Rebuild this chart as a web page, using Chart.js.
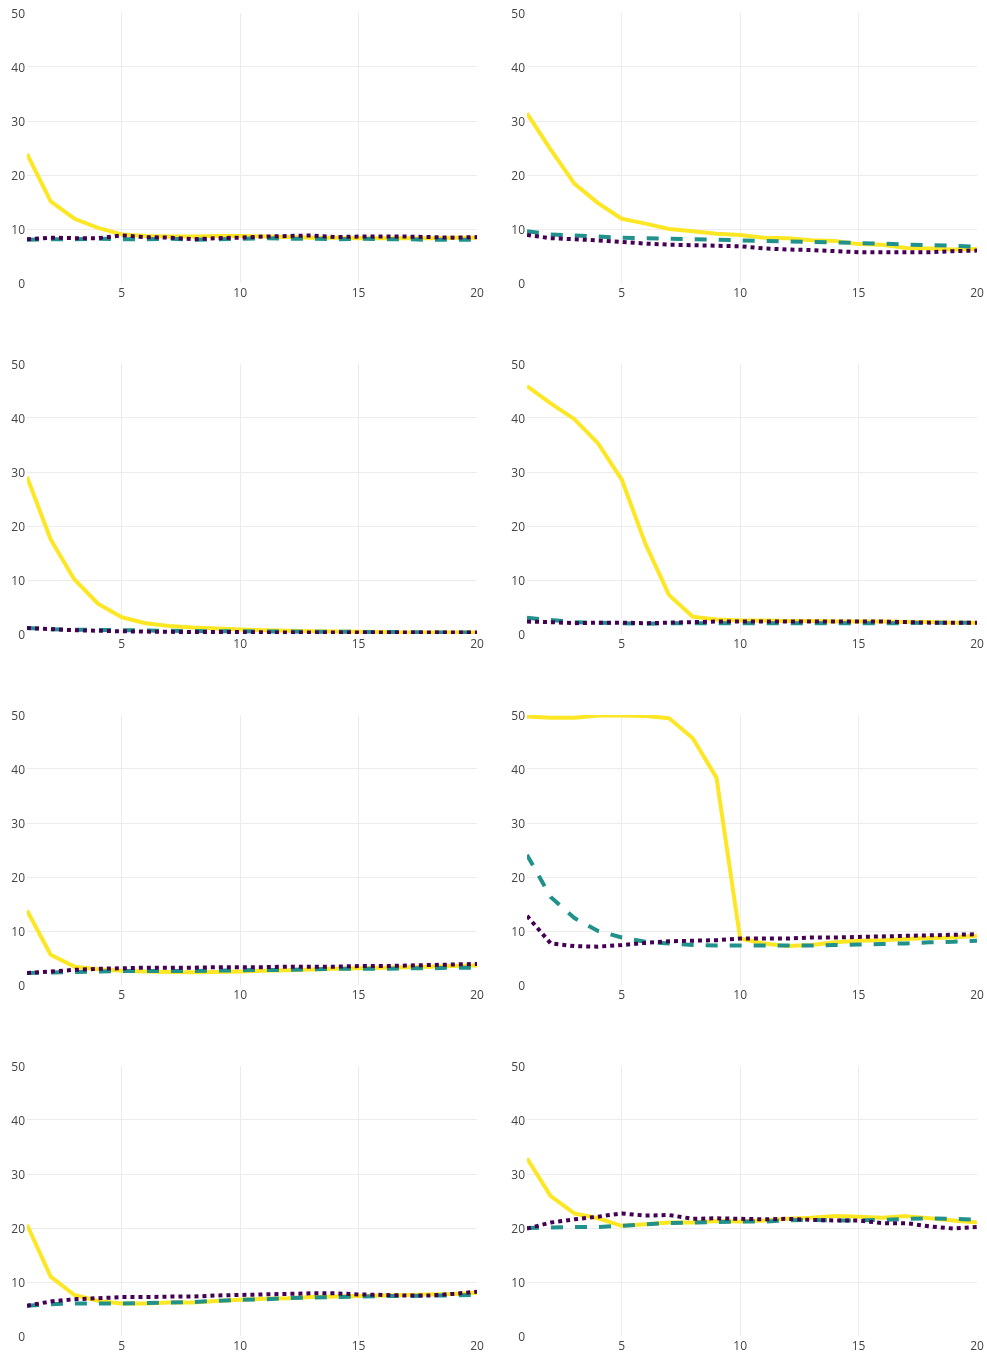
<!DOCTYPE html>
<html>
<head>
<meta charset="utf-8">
<script src="https://cdn.jsdelivr.net/npm/chart.js@4/dist/chart.umd.min.js"></script>
<style>
  body { margin: 0; background: #fff; }
  .cell { position: absolute; }
</style>
</head>
<body>
<div id="grid"></div>
<script>
const xValues = [1, 2, 3, 4, 5, 6, 7, 8, 9, 10, 11, 12, 13, 14, 15, 16, 17, 18, 19, 20];
const xTicks = [5, 10, 15, 20];
const yTicks = [0, 10, 20, 30, 40, 50];

const solid1 = [23.9, 15.1, 11.9, 10.2, 9.0, 8.7, 8.6, 8.6, 8.7, 8.7, 8.6, 8.5, 8.4, 8.4, 8.3, 8.3, 8.3, 8.3, 8.4, 8.4];
const dash1 = [8.0, 8.1, 8.1, 8.2, 8.1, 8.1, 8.2, 8.0, 8.1, 8.2, 8.3, 8.2, 8.2, 8.1, 8.2, 8.1, 8.1, 8.0, 8.0, 8.0];
const dot1 = [8.1, 8.4, 8.3, 8.3, 8.8, 8.5, 8.4, 8.1, 8.3, 8.4, 8.6, 8.7, 8.8, 8.5, 8.6, 8.6, 8.6, 8.5, 8.4, 8.5];

const solid2 = [31.4, 24.7, 18.4, 14.8, 11.9, 11.0, 10.0, 9.6, 9.1, 8.9, 8.4, 8.3, 7.9, 7.8, 7.2, 7.1, 6.5, 6.4, 6.2, 6.3];
const dash2 = [9.6, 9.0, 8.8, 8.6, 8.4, 8.3, 8.2, 8.1, 8.0, 7.9, 7.8, 7.7, 7.6, 7.5, 7.4, 7.3, 7.1, 7.0, 6.9, 6.7];
const dot2 = [8.9, 8.3, 8.1, 7.9, 7.6, 7.3, 7.1, 7.0, 6.9, 6.8, 6.4, 6.2, 6.1, 5.9, 5.7, 5.7, 5.7, 5.7, 5.9, 6.0];

const solid3 = [29.1, 17.5, 10.1, 5.6, 3.1, 2.0, 1.5, 1.2, 1.0, 0.85, 0.7, 0.6, 0.5, 0.45, 0.4, 0.35, 0.3, 0.3, 0.3, 0.3];
const dash3 = [1.1, 0.9, 0.8, 0.75, 0.7, 0.65, 0.6, 0.55, 0.5, 0.5, 0.45, 0.45, 0.4, 0.4, 0.4, 0.35, 0.35, 0.3, 0.3, 0.3];
const dot3 = [1.1, 0.9, 0.7, 0.6, 0.5, 0.45, 0.4, 0.35, 0.35, 0.35, 0.3, 0.3, 0.3, 0.3, 0.3, 0.3, 0.3, 0.3, 0.3, 0.3];

const solid4 = [45.9, 42.7, 39.8, 35.3, 28.6, 16.7, 7.2, 3.2, 2.7, 2.5, 2.5, 2.4, 2.4, 2.3, 2.3, 2.3, 2.2, 2.2, 2.1, 2.1];
const dash4 = [3.0, 2.6, 2.2, 2.1, 2.0, 1.9, 2.0, 2.0, 2.0, 2.0, 2.0, 2.0, 2.0, 2.0, 2.0, 2.0, 2.0, 2.1, 2.1, 2.1];
const dot4 = [2.3, 2.2, 2.0, 2.1, 2.1, 2.0, 2.1, 2.2, 2.3, 2.3, 2.3, 2.3, 2.3, 2.3, 2.3, 2.3, 2.2, 2.1, 2.1, 2.1];

const solid5 = [13.8, 5.6, 3.4, 2.9, 2.65, 2.5, 2.4, 2.35, 2.4, 2.5, 2.65, 2.75, 2.85, 3.0, 3.1, 3.2, 3.3, 3.4, 3.5, 3.6];
const dash5 = [2.2, 2.3, 2.4, 2.5, 2.6, 2.6, 2.6, 2.6, 2.7, 2.7, 2.8, 2.8, 2.9, 3.0, 3.0, 3.0, 3.1, 3.1, 3.2, 3.2];
const dot5 = [2.2, 2.5, 2.8, 3.0, 3.1, 3.2, 3.2, 3.2, 3.3, 3.3, 3.3, 3.4, 3.4, 3.4, 3.5, 3.5, 3.6, 3.7, 3.8, 3.9];

const solid6 = [49.7, 49.5, 49.5, 49.9, 49.9, 49.8, 49.4, 45.7, 38.4, 8.6, 7.7, 7.2, 7.4, 7.9, 8.2, 8.3, 8.5, 8.7, 8.8, 9.1];
const dash6 = [24.1, 16.3, 12.4, 10.0, 8.8, 8.0, 7.7, 7.4, 7.3, 7.3, 7.3, 7.3, 7.3, 7.4, 7.5, 7.6, 7.7, 7.9, 8.0, 8.2];
const dot6 = [12.8, 7.7, 7.2, 7.1, 7.4, 7.8, 8.1, 8.2, 8.3, 8.6, 8.6, 8.6, 8.8, 8.8, 8.9, 9.0, 9.1, 9.2, 9.3, 9.4];

const solid7 = [20.6, 11.0, 7.6, 6.5, 6.0, 6.0, 6.2, 6.2, 6.5, 6.7, 6.9, 7.0, 7.2, 7.3, 7.4, 7.5, 7.6, 7.7, 7.8, 8.0];
const dash7 = [5.6, 5.9, 6.0, 6.0, 6.0, 6.1, 6.2, 6.3, 6.5, 6.7, 6.8, 7.0, 7.1, 7.2, 7.3, 7.4, 7.4, 7.5, 7.5, 7.6];
const dot7 = [5.6, 6.4, 6.8, 7.0, 7.2, 7.2, 7.3, 7.3, 7.5, 7.6, 7.7, 7.8, 7.9, 7.9, 7.7, 7.6, 7.5, 7.5, 7.8, 8.2];

const solid8 = [32.9, 25.9, 22.7, 21.8, 20.4, 20.7, 21.0, 21.0, 21.3, 21.2, 21.4, 21.7, 21.9, 22.2, 22.1, 21.9, 22.2, 21.8, 21.4, 21.0];
const dash8 = [20.0, 20.1, 20.2, 20.2, 20.4, 20.7, 20.9, 21.0, 21.1, 21.2, 21.2, 21.4, 21.5, 21.4, 21.4, 21.5, 21.7, 21.8, 21.7, 21.5];
const dot8 = [19.9, 21.0, 21.6, 22.1, 22.7, 22.3, 22.4, 21.7, 21.8, 21.7, 21.6, 21.7, 21.5, 21.4, 21.4, 20.9, 20.9, 20.3, 19.9, 20.2];

// panels go left to right, top to bottom
const panels = [
    [solid1, dash1, dot1], [solid2, dash2, dot2],
    [solid3, dash3, dot3], [solid4, dash4, dot4],
    [solid5, dash5, dot5], [solid6, dash6, dot6],
    [solid7, dash7, dot7], [solid8, dash8, dot8]
];

const YELLOW = '#fde725';
const TEAL = '#21918c';
const PURPLE = '#440154';
const GRID = '#ececec';

const toPoints = ys => xValues.map((x, i) => ({ x: x, y: ys[i] }));

function makePanel(series, idx) {
    const col = idx % 2;
    const row = Math.floor(idx / 2);
    const box = document.createElement('div');
    box.className = 'cell';
    box.style.left = (col === 0 ? 0 : 500) + 'px';
    box.style.top = (row * 351) + 'px';
    box.style.width = (col === 0 ? 490 : 487) + 'px';
    box.style.height = '303px';
    const canvas = document.createElement('canvas');
    box.appendChild(canvas);
    document.getElementById('grid').appendChild(box);

    new Chart(canvas, {
        type: 'line',
        data: {
            datasets: [
                { data: toPoints(series[0]), borderColor: YELLOW, borderWidth: 4, order: 3 },
                { data: toPoints(series[1]), borderColor: TEAL, borderWidth: 4, borderDash: [12, 12], order: 2 },
                { data: toPoints(series[2]), borderColor: PURPLE, borderWidth: 4, borderDash: [4, 4], order: 1 }
            ]
        },
        options: {
            responsive: true,
            maintainAspectRatio: false,
            animation: false,
            layout: { padding: { top: 13, right: col === 0 ? 13 : 10, left: 0, bottom: 0 } },
            elements: {
                point: { radius: 0 },
                line: { tension: 0, borderJoinStyle: 'round', fill: false }
            },
            plugins: { legend: { display: false }, tooltip: { enabled: false } },
            scales: {
                x: {
                    type: 'linear',
                    min: 1,
                    max: 20,
                    afterBuildTicks: s => { s.ticks = xTicks.map(v => ({ value: v })); },
                    afterFit: s => { s.height = 20; },
                    border: { display: false },
                    grid: {
                        drawTicks: false,
                        color: c => (c.tick && c.tick.value === 20 ? 'rgba(0,0,0,0)' : GRID)
                    },
                    ticks: { padding: 3, color: '#444', font: { family: 'Open Sans', size: 12 }, maxRotation: 0 }
                },
                y: {
                    min: 0,
                    max: 50,
                    afterBuildTicks: s => { s.ticks = yTicks.map(v => ({ value: v })); },
                    afterFit: s => { s.width = 27; },
                    border: { display: false },
                    grid: {
                        drawTicks: false,
                        color: c => (c.tick && (c.tick.value === 0 || c.tick.value === 50) ? 'rgba(0,0,0,0)' : GRID)
                    },
                    ticks: { padding: 2, labelOffset: 2, color: '#444', font: { family: 'Open Sans', size: 12 } }
                }
            }
        }
    });
}

panels.forEach(makePanel);
</script>
</body>
</html>
